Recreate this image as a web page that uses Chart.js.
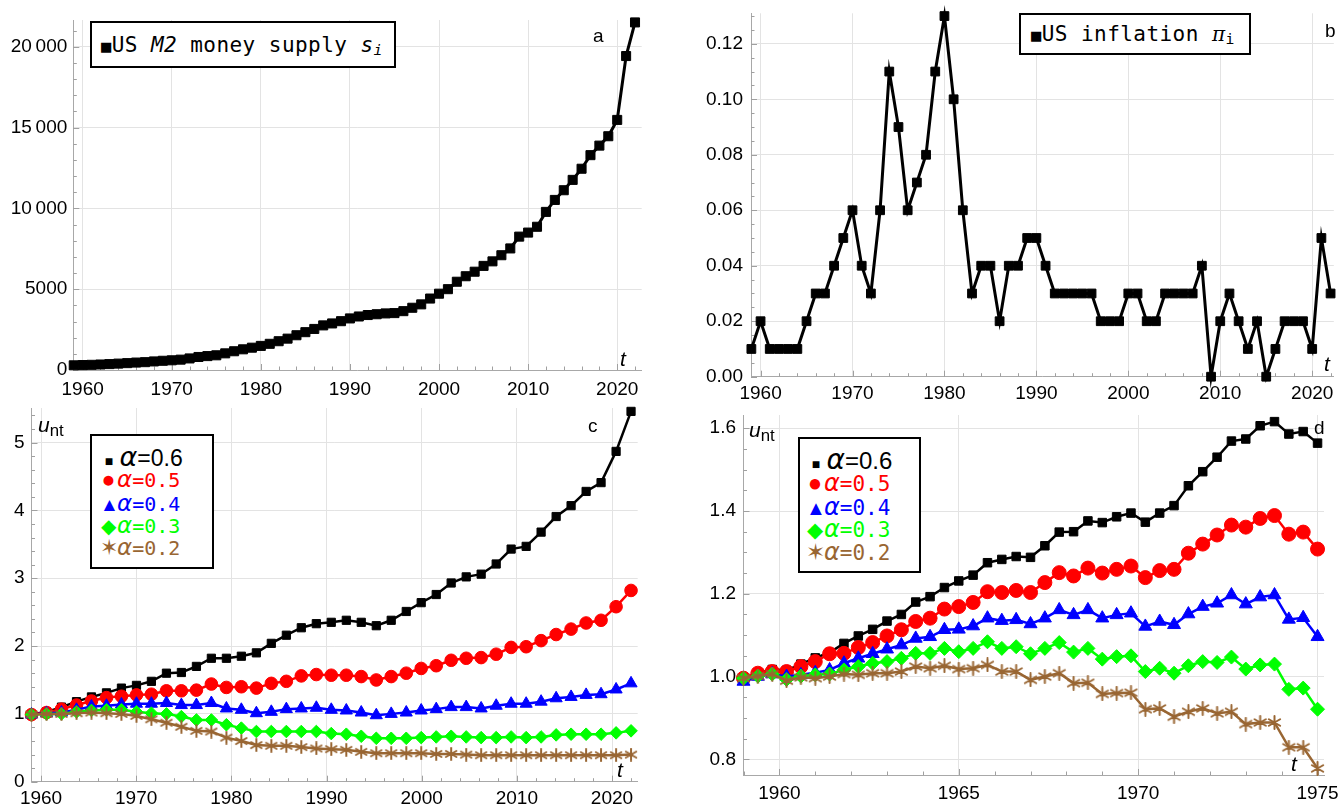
<!DOCTYPE html>
<html>
<head>
<meta charset="utf-8">
<script src="https://cdn.jsdelivr.net/npm/chart.js@4.4.1/dist/chart.umd.min.js"></script>
<style>
  body { margin: 0; background: #fff; width: 1341px; height: 807px; overflow: hidden; position: relative; font-family: 'Liberation Sans', Arial, sans-serif; }
  canvas { position: absolute; }
  .lab { position: absolute; white-space: nowrap; line-height: 1; transform: translateY(-50%); }
  .box { position: absolute; border: 2px solid #000; background: #fff; box-sizing: border-box; }
  .mono { font-family: 'DejaVu Sans Mono', monospace; }
  .al { font-family: 'DejaVu Sans', sans-serif; font-style: italic; }
  .mk { display: inline-block; text-align: center; }
  sub { font-size: 70%; vertical-align: -0.25em; line-height: 0; }
</style>
</head>
<body>
<canvas id="chartA" width="660" height="400" style="left:0;top:0"></canvas>
<canvas id="chartB" width="671" height="410" style="left:670px;top:0"></canvas>
<canvas id="chartC" width="660" height="407" style="left:0;top:400px"></canvas>
<canvas id="chartD" width="671" height="407" style="left:670px;top:400px"></canvas>

<!-- legends -->
<div class="box" style="left:90px;top:21px;width:306px;height:47px"></div>
<div class="lab mono" style="left:101px;top:45px;font-size:21px;letter-spacing:0.45px"><span style="font-size:17px">■</span>US <i>M2</i> money supply <i>s</i><sub><i>i</i></sub></div>

<div class="box" style="left:1019px;top:13px;width:232px;height:42px"></div>
<div class="lab mono" style="left:1031px;top:34px;font-size:21px;letter-spacing:0.45px"><span style="font-size:17px">■</span>US inflation <i style="font-family:'DejaVu Serif',serif;font-size:20px">π</i><sub>i</sub></div>

<div class="box" style="left:90px;top:434px;width:124px;height:135px"></div>
<div class="lab" style="left:103px;top:456px"><span class="mk" style="font-size:14px;width:12px">■</span> <i class="al" style="font-size:27px">α</i><span style="font-size:23px">=0.6</span></div>
<div class="lab" style="left:100px;top:479px;color:#ff0000"><span class="mk" style="font-size:23px;width:17px">●</span><i class="al" style="font-size:23px">α</i><span class="mono" style="font-size:20px">=0.5</span></div>
<div class="lab" style="left:100px;top:503px;color:#0000ff"><span class="mk" style="font-size:19px;width:17px">▲</span><i class="al" style="font-size:23px">α</i><span class="mono" style="font-size:20px">=0.4</span></div>
<div class="lab" style="left:100px;top:525px;color:#00ff00"><span class="mk" style="font-size:20px;width:17px">◆</span><i class="al" style="font-size:23px">α</i><span class="mono" style="font-size:20px">=0.3</span></div>
<div class="lab" style="left:100px;top:547px;color:#996633"><span class="mk" style="font-size:22px;width:17px">✶</span><i class="al" style="font-size:23px">α</i><span class="mono" style="font-size:20px">=0.2</span></div>

<div class="box" style="left:798px;top:437px;width:123px;height:136px"></div>
<div class="lab" style="left:810px;top:460px"><span class="mk" style="font-size:14px;width:12px">■</span> <i class="al" style="font-size:28px">α</i><span style="font-size:24px">=0.6</span></div>
<div class="lab" style="left:806px;top:483px;color:#ff0000"><span class="mk" style="font-size:24px;width:18px">●</span><i class="al" style="font-size:24px">α</i><span class="mono" style="font-size:21px">=0.5</span></div>
<div class="lab" style="left:806px;top:507px;color:#0000ff"><span class="mk" style="font-size:20px;width:18px">▲</span><i class="al" style="font-size:24px">α</i><span class="mono" style="font-size:21px">=0.4</span></div>
<div class="lab" style="left:806px;top:529px;color:#00ff00"><span class="mk" style="font-size:21px;width:18px">◆</span><i class="al" style="font-size:24px">α</i><span class="mono" style="font-size:21px">=0.3</span></div>
<div class="lab" style="left:806px;top:552px;color:#996633"><span class="mk" style="font-size:23px;width:18px">✶</span><i class="al" style="font-size:24px">α</i><span class="mono" style="font-size:21px">=0.2</span></div>

<!-- panel letters and axis names -->
<div class="lab" style="left:593px;top:35px;font-size:19px">a</div>
<div class="lab" style="left:1325px;top:30px;font-size:19px">b</div>
<div class="lab" style="left:588px;top:425px;font-size:19px">c</div>
<div class="lab" style="left:1314px;top:427px;font-size:19px">d</div>
<div class="lab" style="left:620px;top:358px;font-size:21px;font-style:italic">t</div>
<div class="lab" style="left:1324px;top:363px;font-size:21px;font-style:italic">t</div>
<div class="lab" style="left:617px;top:769px;font-size:21px;font-style:italic">t</div>
<div class="lab" style="left:1291px;top:763px;font-size:21px;font-style:italic">t</div>
<div class="lab" style="left:38px;top:424px;font-size:21px"><i>u</i><sub style="font-size:80%">nt</sub></div>
<div class="lab" style="left:749px;top:429px;font-size:21px"><i>u</i><sub style="font-size:80%">nt</sub></div>

<script>
// (a) US M2 money supply, one value per year
const years = [1959, 1960, 1961, 1962, 1963, 1964, 1965, 1966, 1967, 1968, 1969,
  1970, 1971, 1972, 1973, 1974, 1975, 1976, 1977, 1978, 1979,
  1980, 1981, 1982, 1983, 1984, 1985, 1986, 1987, 1988, 1989,
  1990, 1991, 1992, 1993, 1994, 1995, 1996, 1997, 1998, 1999,
  2000, 2001, 2002, 2003, 2004, 2005, 2006, 2007, 2008, 2009,
  2010, 2011, 2012, 2013, 2014, 2015, 2016, 2017, 2018, 2019,
  2020, 2021, 2022];
const m2Supply = [290, 305, 320, 340, 365, 395, 425, 460, 485, 530, 570,
  600, 640, 715, 805, 860, 910, 1030, 1160, 1280, 1380,
  1490, 1620, 1780, 1940, 2150, 2340, 2540, 2760, 2880, 3020,
  3190, 3310, 3400, 3450, 3500, 3520, 3640, 3850, 4060, 4420,
  4720, 5000, 5460, 5800, 6080, 6440, 6720, 7100, 7520, 8250,
  8500, 8860, 9780, 10520, 11120, 11760, 12450, 13290, 13880, 14460,
  15470, 19420, 21500];

// (b) US inflation
const inflation = [0.01, 0.02, 0.01, 0.01, 0.01, 0.01, 0.02, 0.03, 0.03, 0.04, 0.05,
  0.06, 0.04, 0.03, 0.06, 0.11, 0.09, 0.06, 0.07, 0.08, 0.11,
  0.13, 0.10, 0.06, 0.03, 0.04, 0.04, 0.02, 0.04, 0.04, 0.05,
  0.05, 0.04, 0.03, 0.03, 0.03, 0.03, 0.03, 0.02, 0.02, 0.02,
  0.03, 0.03, 0.02, 0.02, 0.03, 0.03, 0.03, 0.03, 0.04, 0.00,
  0.02, 0.03, 0.02, 0.01, 0.02, 0.00, 0.01, 0.02, 0.02, 0.02,
  0.01, 0.05, 0.03];

// (c) u_nt for 1959-2022
const tFull = [1959.00, 1960.58, 1962.15, 1963.73, 1965.30, 1966.88, 1968.45, 1970.03, 1971.60, 1973.18,
  1974.75, 1976.33, 1977.90, 1979.48, 1981.05, 1982.63, 1984.20, 1985.78, 1987.35, 1988.93,
  1990.50, 1992.08, 1993.65, 1995.23, 1996.80, 1998.38, 1999.95, 2001.53, 2003.10, 2004.68,
  2006.25, 2007.83, 2009.40, 2010.98, 2012.55, 2014.13, 2015.70, 2017.28, 2018.85, 2020.43,
  2022.00];
const uFull06 = [0.99, 1.03, 1.10, 1.18, 1.25, 1.31, 1.38, 1.42, 1.48, 1.60,
  1.61, 1.70, 1.82, 1.82, 1.85, 1.90, 2.04, 2.16, 2.27, 2.33,
  2.35, 2.38, 2.35, 2.30, 2.38, 2.51, 2.64, 2.76, 2.93, 3.02,
  3.06, 3.21, 3.43, 3.47, 3.68, 3.91, 4.07, 4.28, 4.41, 4.87,
  5.46];
const uFull05 = [0.99, 1.02, 1.07, 1.13, 1.19, 1.24, 1.26, 1.28, 1.29, 1.34,
  1.34, 1.35, 1.44, 1.39, 1.40, 1.38, 1.45, 1.48, 1.56, 1.58,
  1.57, 1.57, 1.55, 1.50, 1.55, 1.60, 1.67, 1.71, 1.79, 1.82,
  1.83, 1.88, 1.98, 1.99, 2.08, 2.17, 2.25, 2.34, 2.38, 2.58,
  2.82];
const uFull04 = [0.99, 1.01, 1.02, 1.06, 1.11, 1.12, 1.14, 1.15, 1.15, 1.16,
  1.13, 1.13, 1.16, 1.08, 1.06, 1.01, 1.03, 1.07, 1.08, 1.09,
  1.06, 1.05, 1.02, 0.98, 1.00, 1.02, 1.05, 1.07, 1.10, 1.10,
  1.08, 1.12, 1.15, 1.15, 1.18, 1.23, 1.25, 1.28, 1.29, 1.36,
  1.45];
const uFull03 = [0.99, 1.00, 1.00, 1.03, 1.05, 1.06, 1.06, 1.03, 1.01, 1.00,
  0.96, 0.91, 0.91, 0.84, 0.79, 0.74, 0.74, 0.74, 0.74, 0.74,
  0.71, 0.70, 0.67, 0.64, 0.64, 0.64, 0.65, 0.66, 0.67, 0.66,
  0.65, 0.65, 0.66, 0.65, 0.66, 0.69, 0.70, 0.70, 0.70, 0.72,
  0.75];
const uFull02 = [0.99, 1.00, 1.00, 1.01, 1.02, 1.01, 1.00, 0.97, 0.92, 0.87,
  0.81, 0.75, 0.74, 0.65, 0.60, 0.54, 0.53, 0.53, 0.51, 0.49,
  0.48, 0.47, 0.44, 0.42, 0.42, 0.42, 0.42, 0.41, 0.41, 0.40,
  0.39, 0.39, 0.39, 0.39, 0.39, 0.39, 0.39, 0.39, 0.39, 0.39,
  0.40];

// (d) u_nt for 1959-1975
const tEarly = [1959.0, 1959.4, 1959.8, 1960.2, 1960.6, 1961.0, 1961.4, 1961.8, 1962.2, 1962.6,
  1963.0, 1963.4, 1963.8, 1964.2, 1964.6, 1965.0, 1965.4, 1965.8, 1966.2, 1966.6,
  1967.0, 1967.4, 1967.8, 1968.2, 1968.6, 1969.0, 1969.4, 1969.8, 1970.2, 1970.6,
  1971.0, 1971.4, 1971.8, 1972.2, 1972.6, 1973.0, 1973.4, 1973.8, 1974.2, 1974.6,
  1975.0];
const uEarly06 = [0.996, 1.008, 1.017, 1.015, 1.030, 1.045, 1.058, 1.080, 1.098, 1.114,
  1.134, 1.150, 1.180, 1.193, 1.215, 1.231, 1.245, 1.275, 1.283, 1.290,
  1.288, 1.316, 1.349, 1.350, 1.376, 1.372, 1.386, 1.395, 1.373, 1.395,
  1.413, 1.461, 1.495, 1.530, 1.569, 1.574, 1.606, 1.616, 1.586, 1.592,
  1.564];
const uEarly05 = [0.996, 1.008, 1.012, 1.012, 1.024, 1.036, 1.055, 1.056, 1.070, 1.082,
  1.098, 1.113, 1.133, 1.141, 1.163, 1.169, 1.179, 1.205, 1.203, 1.208,
  1.203, 1.227, 1.251, 1.243, 1.262, 1.250, 1.259, 1.267, 1.239, 1.256,
  1.259, 1.298, 1.320, 1.342, 1.366, 1.361, 1.382, 1.389, 1.344, 1.349,
  1.308];
const uEarly04 = [0.988, 1.000, 1.006, 1.000, 1.004, 1.009, 1.016, 1.032, 1.044, 1.055,
  1.066, 1.076, 1.092, 1.096, 1.113, 1.114, 1.122, 1.141, 1.135, 1.137,
  1.127, 1.141, 1.161, 1.149, 1.161, 1.141, 1.149, 1.153, 1.121, 1.133,
  1.125, 1.151, 1.169, 1.177, 1.197, 1.175, 1.192, 1.197, 1.138, 1.142,
  1.096];
const uEarly03 = [0.996, 1.001, 1.006, 0.993, 1.001, 1.004, 1.006, 1.016, 1.024, 1.032,
  1.036, 1.044, 1.056, 1.056, 1.068, 1.060, 1.068, 1.084, 1.068, 1.072,
  1.055, 1.068, 1.082, 1.059, 1.068, 1.042, 1.048, 1.050, 1.012, 1.020,
  1.008, 1.026, 1.036, 1.034, 1.047, 1.018, 1.028, 1.030, 0.969, 0.972,
  0.921];
const uEarly02 = [0.996, 1.001, 1.006, 0.990, 0.998, 0.996, 1.000, 1.006, 1.004, 1.008,
  1.008, 1.012, 1.024, 1.020, 1.026, 1.018, 1.020, 1.028, 1.012, 1.012,
  0.992, 1.000, 1.008, 0.984, 0.985, 0.958, 0.960, 0.961, 0.921, 0.923,
  0.903, 0.915, 0.923, 0.911, 0.915, 0.885, 0.889, 0.889, 0.829, 0.829,
  0.778];

// tick values and their labels
const decadeTicks = [1960, 1970, 1980, 1990, 2000, 2010, 2020];
const decadeLabels = ['1960', '1970', '1980', '1990', '2000', '2010', '2020'];
const earlyTicks = [1960, 1965, 1970, 1975];
const earlyLabels = ['1960', '1965', '1970', '1975'];
const m2Ticks = [0, 5000, 10000, 15000, 20000];
const m2Labels = ['0', '5000', '10\u2009000', '15\u2009000', '20\u2009000'];
const inflTicks = [0, 0.02, 0.04, 0.06, 0.08, 0.10, 0.12];
const inflLabels = ['0.00', '0.02', '0.04', '0.06', '0.08', '0.10', '0.12'];
const uFullTicks = [0, 1, 2, 3, 4, 5];
const uFullLabels = ['0', '1', '2', '3', '4', '5'];
const uEarlyTicks = [0.8, 1.0, 1.2, 1.4, 1.6];
const uEarlyLabels = ['0.8', '1.0', '1.2', '1.4', '1.6'];

const BLACK = '#000000', RED = '#ff0000', BLUE = '#0000ff', GREEN = '#00ff00', BROWN = '#996633';

Chart.defaults.font.family = "'Liberation Sans', Arial, sans-serif";
Chart.defaults.font.size = 19;
Chart.defaults.color = '#000';

// six-spoke asterisk used as a point marker
function asterisk(size, color) {
  const c = document.createElement('canvas');
  c.width = c.height = size;
  const g = c.getContext('2d');
  g.strokeStyle = color;
  g.lineWidth = 2;
  g.lineCap = 'round';
  const r = size / 2 - 1;
  g.beginPath();
  for (let k = 0; k < 3; k++) {
    const a = Math.PI / 2 + k * Math.PI / 3;
    g.moveTo(size / 2 + r * Math.cos(a), size / 2 + r * Math.sin(a));
    g.lineTo(size / 2 - r * Math.cos(a), size / 2 - r * Math.sin(a));
  }
  g.stroke();
  return c;
}

// short tick marks pointing into the plot, major and minor
const innerTicks = {
  id: 'innerTicks',
  beforeDatasetsDraw(chart, args, o) {
    const ctx = chart.ctx, area = chart.chartArea;
    const xs = chart.scales.x, ys = chart.scales.y;
    ctx.save();
    ctx.strokeStyle = '#a0a0a0';
    ctx.lineWidth = 1;
    ctx.beginPath();
    const mark = (scale, v, len) => {
      if (v < scale.min - 1e-9 || v > scale.max + 1e-9) return;
      const p = Math.round(scale.getPixelForValue(v)) + 0.5;
      if (scale === xs) { ctx.moveTo(p, area.bottom); ctx.lineTo(p, area.bottom - len); }
      else { ctx.moveTo(area.left, p); ctx.lineTo(area.left + len, p); }
    };
    for (let k = 0; o.xFrom + k * o.xStep <= xs.max; k++) mark(xs, o.xFrom + k * o.xStep, 3.5);
    for (let k = 0; o.yFrom + k * o.yStep <= ys.max; k++) mark(ys, o.yFrom + k * o.yStep, 3.5);
    xs.ticks.forEach(t => mark(xs, t.value, 6));
    ys.ticks.forEach(t => mark(ys, t.value, 6));
    ctx.stroke();
    ctx.restore();
  }
};

// fixed-size axis; label overhang padding is dropped so the plot box stays put
function axis(min, max, ticks, labels, size, pad) {
  return {
    type: 'linear',
    min: min,
    max: max,
    afterBuildTicks: s => { s.ticks = ticks.map(v => ({ value: v })); },
    afterFit: s => {
      if (s.isHorizontal()) s.height = size; else s.width = size;
      s.paddingTop = s.paddingBottom = s.paddingLeft = s.paddingRight = 0;
    },
    ticks: { autoSkip: false, maxRotation: 0, padding: pad, callback: (v, i) => labels[i] },
    grid: { color: '#e3e3e3', drawTicks: false },
    border: { color: '#a8a8a8' }
  };
}

function series(xs, ys, color, style, radius, width, order) {
  return {
    data: xs.map((x, i) => ({ x: x, y: ys[i] })),
    borderColor: color,
    backgroundColor: color,
    borderWidth: width,
    pointStyle: style,
    pointRadius: radius,
    pointBorderWidth: 1,
    tension: 0,
    clip: false,
    order: order
  };
}

function options(padding, x, y, minor) {
  return {
    responsive: false,
    animation: false,
    devicePixelRatio: 1,
    layout: { padding: padding },
    scales: { x: x, y: y },
    plugins: { legend: { display: false }, tooltip: { enabled: false }, innerTicks: minor }
  };
}

// (a)
new Chart(document.getElementById('chartA'), {
  type: 'line',
  data: { datasets: [series(years, m2Supply, BLACK, 'rect', 6.4, 3, 0)] },
  options: options({ top: 20, right: 18.3, left: 0, bottom: 0 },
    axis(1958.95, 2022.75, decadeTicks, decadeLabels, 30, 8),
    axis(0, 21650, m2Ticks, m2Labels, 73.3, 6),
    { xFrom: 1958, xStep: 2, yFrom: 0, yStep: 1000 }),
  plugins: [innerTicks]
});

// (b)
new Chart(document.getElementById('chartB'), {
  type: 'line',
  data: { datasets: [series(years, inflation, BLACK, 'rect', 6.2, 3, 0)] },
  options: options({ top: 13.3, right: 0, left: 0, bottom: 0 },
    axis(1958.96, 2022.35, decadeTicks, decadeLabels, 33.3, 6),
    axis(0, 0.131, inflTicks, inflLabels, 81, 8),
    { xFrom: 1958, xStep: 2, yFrom: 0, yStep: 0.005 }),
  plugins: [innerTicks]
});

// (c)
new Chart(document.getElementById('chartC'), {
  type: 'line',
  data: {
    datasets: [
      series(tFull, uFull06, BLACK, 'rect', 5.8, 2.5, 4),
      series(tFull, uFull05, RED, 'circle', 6.3, 2.5, 3),
      series(tFull, uFull04, BLUE, 'triangle', 7, 2.5, 2),
      series(tFull, uFull03, GREEN, 'rectRot', 6.3, 2.5, 1),
      series(tFull, uFull02, BROWN, asterisk(14, BROWN), 7, 2.5, 0)
    ]
  },
  options: options({ top: 8, right: 22.3, left: 0, bottom: 0 },
    axis(1959.0, 2022.7, decadeTicks, decadeLabels, 25.3, 6),
    axis(0, 5.51, uFullTicks, uFullLabels, 31.5, 7),
    { xFrom: 1958, xStep: 2, yFrom: 0, yStep: 0.2 }),
  plugins: [innerTicks]
});

// (d)
new Chart(document.getElementById('chartD'), {
  type: 'line',
  data: {
    datasets: [
      series(tEarly, uEarly06, BLACK, 'rect', 6, 2.5, 4),
      series(tEarly, uEarly05, RED, 'circle', 7, 2.5, 3),
      series(tEarly, uEarly04, BLUE, 'triangle', 7.5, 2.5, 2),
      series(tEarly, uEarly03, GREEN, 'rectRot', 7, 2.5, 1),
      series(tEarly, uEarly02, BROWN, asterisk(15, BROWN), 7.5, 2.5, 0)
    ]
  },
  options: options({ top: 15, right: 17, left: 0, bottom: 0 },
    axis(1959.0, 1975.18, earlyTicks, earlyLabels, 32, 7.5),
    axis(0.762, 1.632, uEarlyTicks, uEarlyLabels, 73.5, 7.5),
    { xFrom: 1959, xStep: 1, yFrom: 0.75, yStep: 0.05 }),
  plugins: [innerTicks]
});
</script>
</body>
</html>
